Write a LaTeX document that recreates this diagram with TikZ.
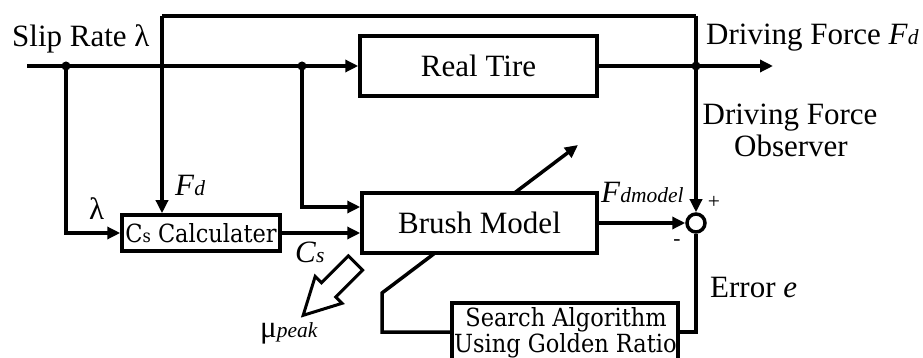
\documentclass[tikz,border=0pt]{standalone}
\usepackage{fontspec}
\setmainfont{Liberation Serif}
\newfontfamily\dvs{DejaVu Serif Condensed}
\usetikzlibrary{arrows.meta,backgrounds}
\newcommand\mainsz{\fontsize{31}{33}\selectfont}
\newcommand\smsz{\fontsize{21.5}{22}\selectfont}
\newcommand\boxsz{\fontsize{25}{28}\selectfont}
\newcommand\sbi[1]{{\smsz\itshape #1}}
\begin{document}
\begin{tikzpicture}[x=1pt,y=-1pt,
  wire/.style={line width=3.5pt},
  arr/.style={line width=3.5pt,-{Triangle[length=13pt,width=12pt]}},
  blk/.style={draw,line width=3.5pt,fill=white,inner sep=0pt,font=\mainsz},
  lbl/.style={inner sep=0pt,font=\mainsz},
  dot/.style={circle,fill,inner sep=0pt,minimum size=9pt}
]
\useasboundingbox (0,0) rectangle (923,358);
\clip (0,0) rectangle (923,358);
% blocks
\node[blk,minimum width=237pt,minimum height=60pt] (tire) at (478.5,66) {Real Tire};
\node[blk,minimum width=235pt,minimum height=60pt] (brush) at (479.5,223) {Brush Model};
\node[blk,minimum width=158pt,minimum height=36pt,font=\boxsz\dvs] (cs) at (201,233) {C{\fontsize{18}{18}\selectfont s} Calculater};
\node[blk,minimum width=226pt,minimum height=58pt] (search) at (565,332) {};
\begin{scope}
\clip (452,303) rectangle (678,358);
\node[lbl,font=\boxsz\dvs,anchor=base] (s1) at (566,326) {Search Algorithm};
\node[lbl,font=\boxsz\dvs,anchor=base west] (s2) at (454,352) {Using Golden Ratio};
\end{scope}
\node[circle,draw,line width=3.5pt,fill=white,minimum size=18pt,inner sep=0pt] (sum) at (696,223) {};
% coordinates
\coordinate (in) at (27,66);
\coordinate (out) at (773,66);
\coordinate (tl) at (162,16);
\coordinate (tr) at (696,16);
\coordinate (bend) at (382,293);
\coordinate (adj) at (578,145);
% connectors
\draw[arr] (in) -- (tire.west);
\draw[arr] (tire.east) -- (out);
\draw[arr] (tl) -- (tl |- cs.north);
\draw[wire] (tl) -- (tr);
\draw[arr] (tr) -- (sum.north);
\node[dot] (j1) at (66,66) {};
\node[dot] (j2) at (302,66) {};
\node[dot] (j3) at (696,66) {};
\draw[arr] (j1.center) |- (cs.west);
\draw[arr] (j2.center) |- ([yshift=16pt]brush.west);
\draw[arr] (cs.east) -- (cs.east -| brush.west);
\draw[arr] (brush.east) -- (sum.west);
\draw[wire] (sum.south) |- (search.east);
\begin{pgfonlayer}{background}
\draw[arr] (search.west) -| (bend) -- (adj);
\end{pgfonlayer}
% hollow arrow
\draw[line width=3pt,fill=white,line join=miter,shift={(355.5,263)},rotate=225]
  (0,10) -- (38,10) -- (38,19) -- (74,0) -- (38,-19) -- (38,-10) -- (0,-10) -- cycle;
% labels
\node[lbl,anchor=base west] (slip) at (12,47) {Slip Rate λ};
\node[lbl,anchor=base west] (dfout) at (706,45) {Driving Force \textit{F}\sbi{d}};
\node[lbl,anchor=base] (obs1) at (790,125) {Driving Force};
\node[lbl,anchor=base] (obs2) at (791,157) {Observer};
\node[lbl,anchor=base west] (lam) at (89,219) {λ};
\node[lbl,anchor=base west] (fd) at (175,196) {\textit{F}\sbi{d}};
\node[lbl,anchor=base west] (csl) at (295,262) {\textit{C}\sbi{s}};
\node[lbl,anchor=base west] (fdm) at (601,203) {\textit{F}\sbi{dmodel}};
\node[lbl,font=\smsz] (plus) at (714,202) {+};
\node[lbl,font=\smsz] (minus) at (677,243) {-};
\node[lbl,anchor=base west] (err) at (710,297) {Error \textit{e}};
\node[lbl,anchor=base west] (mu) at (260,337) {μ\sbi{peak}};
\end{tikzpicture}
\end{document}
